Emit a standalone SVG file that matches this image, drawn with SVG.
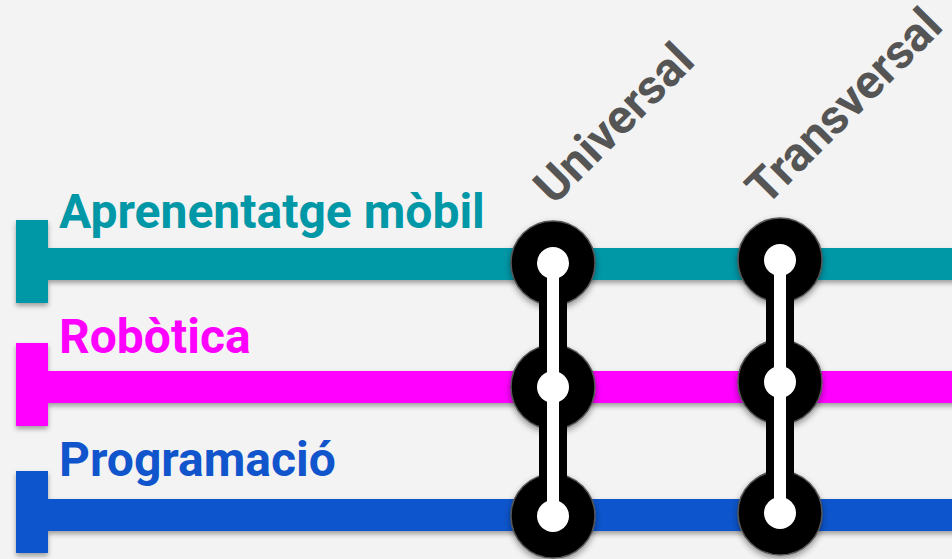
<svg xmlns="http://www.w3.org/2000/svg" width="952" height="559" viewBox="0 0 952 559">
  <defs>
    <filter id="sh" x="-10%" y="-30%" width="120%" height="170%">
      <feDropShadow dx="0" dy="3" stdDeviation="2.5" flood-color="#000" flood-opacity="0.35"/>
    </filter>
    <filter id="shc" x="-30%" y="-30%" width="160%" height="170%">
      <feDropShadow dx="0" dy="3" stdDeviation="3" flood-color="#000" flood-opacity="0.4"/>
    </filter>
  </defs>
  <style>
    .lbl { font-family: Roboto, "Liberation Sans", sans-serif; font-weight: bold; font-size: 48px; }
    .hdr { font-family: Roboto, "Liberation Sans", sans-serif; font-weight: bold; font-size: 48px; fill: #555555; }
    .stn { fill: #000; stroke: #555; stroke-width: 1.5; }
    .dot { fill: #fff; }
  </style>
  <rect width="952" height="559" fill="#f3f3f3"/>

  <g id="line-aprenentatge" filter="url(#sh)">
    <rect x="40" y="248" width="920" height="32" fill="#0097a7"/>
    <rect x="16" y="220" width="32" height="83" fill="#0097a7"/>
  </g>
  <text class="lbl" x="59" y="228" fill="#0097a7">Aprenentatge mòbil</text>

  <g id="line-robotica" filter="url(#sh)">
    <rect x="40" y="371" width="920" height="32" fill="#ff00ff"/>
    <rect x="16" y="343" width="32" height="83" fill="#ff00ff"/>
  </g>
  <text class="lbl" x="59" y="353" fill="#ff00ff">Robòtica</text>

  <g id="line-programacio" filter="url(#sh)">
    <rect x="40" y="499" width="920" height="32" fill="#1155cc"/>
    <rect x="16" y="471" width="32" height="82" fill="#1155cc"/>
  </g>
  <text class="lbl" x="59" y="476" fill="#1155cc">Programació</text>

  <g id="station-universal">
    <g filter="url(#shc)">
      <circle class="stn" cx="553" cy="263" r="42"/>
      <circle class="stn" cx="553" cy="387" r="42"/>
      <circle class="stn" cx="553" cy="516" r="42"/>
    </g>
    <rect x="539" y="263" width="28" height="253" fill="#000"/>
    <rect x="547" y="263" width="12" height="253" fill="#fff"/>
    <circle class="dot" cx="553" cy="263" r="16"/>
    <circle class="dot" cx="553" cy="387" r="16"/>
    <circle class="dot" cx="553" cy="516" r="16"/>
    <text class="hdr" x="554" y="206" transform="rotate(-45 554 206)">Universal</text>
  </g>

  <g id="station-transversal">
    <g filter="url(#shc)">
      <circle class="stn" cx="780" cy="260" r="42"/>
      <circle class="stn" cx="780" cy="382" r="42"/>
      <circle class="stn" cx="780" cy="513" r="42"/>
    </g>
    <rect x="766" y="260" width="28" height="253" fill="#000"/>
    <rect x="774" y="260" width="12" height="253" fill="#fff"/>
    <circle class="dot" cx="780" cy="260" r="16"/>
    <circle class="dot" cx="780" cy="382" r="16"/>
    <circle class="dot" cx="780" cy="513" r="16"/>
    <text class="hdr" x="766" y="207" transform="rotate(-45 766 207)">Transversal</text>
  </g>
</svg>
